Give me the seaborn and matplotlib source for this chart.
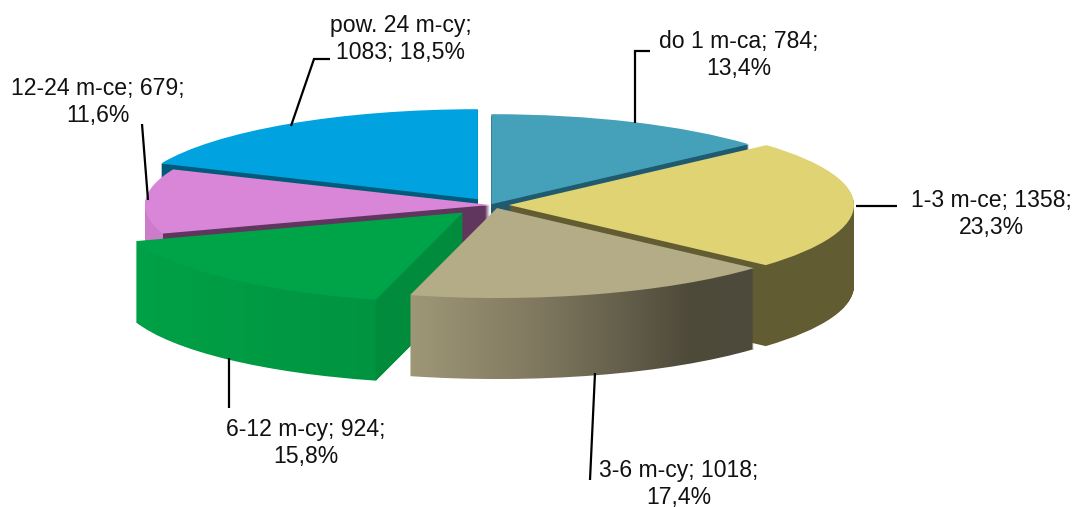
import numpy as np
import matplotlib
matplotlib.use("Agg")
import matplotlib.pyplot as plt
from matplotlib.path import Path
import seaborn as sns

sns.set_theme(style="white")
plt.rcParams['font.family'] = ['Liberation Sans', 'DejaVu Sans']

# data, clockwise from the top
categories = ['do 1 m-ca', '1-3 m-ce', '3-6 m-cy', '6-12 m-cy', '12-24 m-ce', 'pow. 24 m-cy']
values = [784, 1358, 1018, 924, 679, 1083]
shares = ['13,4%', '23,3%', '17,4%', '15,8%', '11,6%', '18,5%']

explode = [0.01, 0.055, 0.07, 0.115, 0.0, 0.064]
lift_px = [0, 0, 3, 0, 0, 1]
top_colors = ['#45A1BA', '#E0D373', '#B3AC86', '#00A448', '#D986D9', '#00A3E0']

# wall colour stops over pixel x, for the gradients on the sides
wall_stops = [
    [(0, '#1F5A6E'), (1074, '#1F5A6E')],
    [(0, '#625C33'), (1074, '#625C33')],
    [(409, '#9E9777'), (540, '#7F785F'), (690, '#4E4A3A'), (752, '#4F4B3C')],
    [(135, '#00A147'), (374, '#009440'), (376, '#008C3C'), (470, '#008C3C')],
    [(140, '#CC7CC8'), (162, '#CC7CC8'), (163, '#60365F'), (500, '#60365F')],
    [(0, '#005A7A'), (1074, '#005A7A')],
]
draw_order = [5, 0, 4, 1, 3, 2]

W, H = 1074, 507
CX, CY = 490, 205
RX, RY = 345, 90
DEPTH = 81

fig = plt.figure(figsize=(W / 100, H / 100), dpi=100)
ax = fig.add_axes([0, 0, 1, 1])


def slice_wedge(i, down_px):
    wedges = ax.pie(values, explode=explode, startangle=90, counterclock=False,
                    center=(0, (lift_px[i] - down_px) / RY), labeldistance=None,
                    colors=top_colors, wedgeprops={'linewidth': 0})[0]
    for j, w in enumerate(wedges):
        if j != i:
            w.remove()
    return wedges[i]


for n, i in enumerate(draw_order):
    # side wall: stacked copies of the slice, filled with a column gradient
    paths = []
    for d in np.arange(DEPTH, 0, -1.0):
        w = slice_wedge(i, d)
        paths.append(w.get_path())
        w.remove()
    xs_px = np.arange(0, W)
    stops = wall_stops[i]
    rgb = np.array(sns.color_palette([c for _, c in stops]))
    grad = np.stack([np.interp(xs_px, [p for p, _ in stops], rgb[:, k]) for k in range(3)], axis=1)
    im = ax.imshow(grad[None, :, :], aspect='auto', interpolation='nearest',
                   extent=((0 - CX) / RX, (W - CX) / RX, -3, 3), zorder=n * 2 + 1)
    im.set_clip_path(Path.make_compound_path(*paths), transform=ax.transData)
    # top face
    slice_wedge(i, 0).set_zorder(n * 2 + 2)

ax.set_aspect('auto')
ax.set_xlim(-CX / RX, (W - CX) / RX)
ax.set_ylim(-(H - CY) / RY, CY / RY)
ax.set_axis_off()

# labels and leader lines in pixel coordinates
over = fig.add_axes([0, 0, 1, 1])
over.set_xlim(0, W)
over.set_ylim(H, 0)
over.set_axis_off()
over.patch.set_alpha(0)

labels = [
    f'{categories[0]}; {values[0]};\n{shares[0]}',
    f'{categories[1]}; {values[1]};\n{shares[1]}',
    f'{categories[2]}; {values[2]};\n{shares[2]}',
    f'{categories[3]}; {values[3]};\n{shares[3]}',
    f'{categories[4]}; {values[4]};\n{shares[4]}',
    f'{categories[5]};\n{values[5]}; {shares[5]}',
]
label_pos = [(739, 55), (991, 214), (679, 484), (306, 443), (98, 102), (401, 39)]
leaders = [
    [(635, 123), (635, 51), (650, 51)],
    [(856, 206), (897, 206)],
    [(595, 373), (590, 480)],
    [(229, 358), (229, 408)],
    [(142, 124), (148, 200)],
    [(330, 59), (314, 59), (291, 126)],
]
for text, (x, y), line in zip(labels, label_pos, leaders):
    over.text(x, y, text, ha='center', va='center', fontsize=16.6, color='#111111',
              linespacing=1.22)
    over.plot([p[0] for p in line], [p[1] for p in line], color='black', lw=1.6,
              solid_capstyle='butt', solid_joinstyle='miter')

fig.savefig('out.png', dpi=100)
